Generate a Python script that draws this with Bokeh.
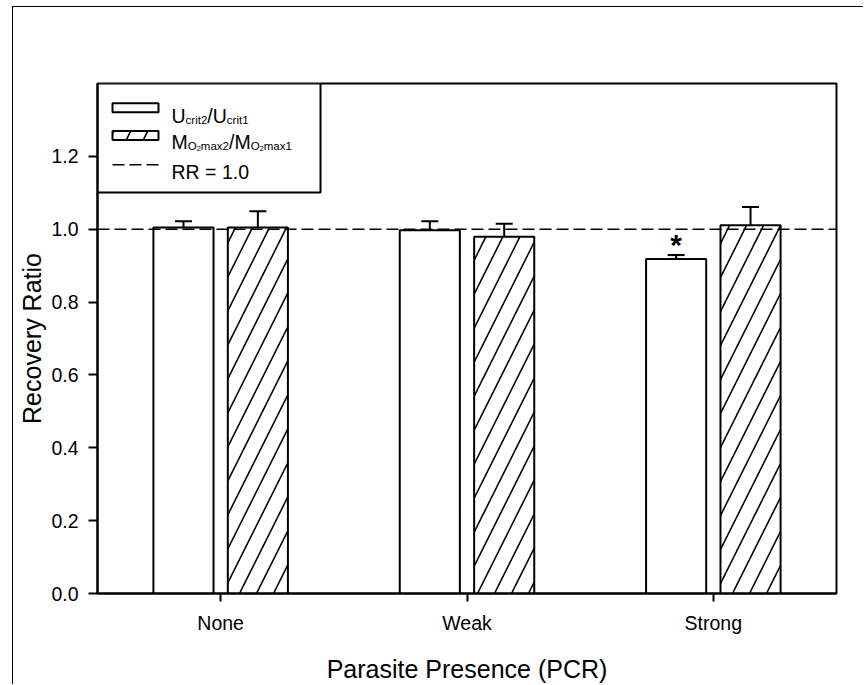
from bokeh.plotting import figure
from bokeh.models import (ColumnDataSource, FactorRange, Range1d, FixedTicker,
                          PrintfTickFormatter, Span, Whisker, TeeHead,
                          BoxAnnotation, Label, GlobalInlineStyleSheet)
from bokeh.transform import dodge
from bokeh.core.properties import value
from bokeh.embed import file_html
from bokeh.resources import INLINE

# ---------------- data ----------------
categories = ["None", "Weak", "Strong"]
ucrit_ratio = [1.005, 0.997, 0.918]
ucrit_err = [0.017, 0.025, 0.011]
mo2_ratio = [1.005, 0.979, 1.011]
mo2_err = [0.044, 0.036, 0.050]
significance = ["", "", "*"]
y_ticks = [0.0, 0.2, 0.4, 0.6, 0.8, 1.0, 1.2]
reference_ratio = 1.0

FONT = "Liberation Sans"
W, H = 864, 685
OX, OY = 13, 7            # page frame offset (figure origin on page)
FL, FR, FT, FB = 97, 836, 83, 598   # plot frame, page coordinates
Y_MAX = 1.4
N = len(categories)


def dx(sx):
    return (sx - FL) / ((FR - FL) / N)


def dy(sy):
    return (FB - sy) / ((FB - FT) / Y_MAX)


src = ColumnDataSource(dict(
    cat=categories,
    ucrit=ucrit_ratio,
    ucrit_up=[v + e for v, e in zip(ucrit_ratio, ucrit_err)],
    mo2=mo2_ratio,
    mo2_up=[v + e for v, e in zip(mo2_ratio, mo2_err)],
    sig=significance,
))

p = figure(width=W - OX, height=H - OY, x_range=FactorRange(*categories),
           y_range=Range1d(0, Y_MAX), output_backend="svg",
           toolbar_location=None, min_border_left=FL - OX,
           min_border_right=W - FR, min_border_top=FT - OY,
           min_border_bottom=H - FB)
p.styles = {"position": "absolute", "left": f"{OX}px", "top": f"{OY}px",
            "box-shadow": "-1px -1px 0 0 black"}
p.stylesheets = [GlobalInlineStyleSheet(
    css="html, body { overflow: hidden !important; margin: 0; }")]
p.x_range.range_padding = 0
p.background_fill_color = "white"
p.border_fill_color = "white"
p.outline_line_color = "black"
p.outline_line_width = 2
p.xgrid.visible = False
p.ygrid.visible = False

OFF = 0.151
BW = 0.244
HATCH = dict(hatch_pattern="/", hatch_color="black", hatch_weight=1.6,
             hatch_scale=34)

# legend frame drawn beneath the glyph layer
p.add_layout(BoxAnnotation(left=dx(FL), right=dx(320), top=dy(FT),
                           bottom=dy(193), fill_color="white", fill_alpha=1,
                           line_color="black", line_alpha=1, line_width=2,
                           level="underlay"))

p.vbar(x=dodge("cat", -OFF, range=p.x_range), top="ucrit", width=BW,
       source=src, fill_color="white", line_color="black", line_width=2)
p.vbar(x=dodge("cat", OFF, range=p.x_range), top="mo2", width=BW,
       source=src, fill_color="white", line_color="black", line_width=2,
       **HATCH)

for off, lo, up in [(-OFF, "ucrit", "ucrit_up"), (OFF, "mo2", "mo2_up")]:
    w = Whisker(base=dodge("cat", off, range=p.x_range), lower=lo, upper=up,
                source=src, dimension="height", line_color="black",
                line_width=2, lower_head=None,
                upper_head=TeeHead(size=17, line_color="black", line_width=2))
    p.add_layout(w)

p.text(x=dodge("cat", -OFF, range=p.x_range), y="ucrit_up", text="sig",
       source=src, text_font=value(FONT), text_font_size="30px",
       text_font_style="bold", text_align="center",
       text_baseline="alphabetic", y_offset=-11, text_color="black")

p.add_layout(Span(location=reference_ratio, dimension="width",
                  line_color="black", line_width=1.5, line_dash="12 5"))

# axes
p.yaxis.ticker = FixedTicker(ticks=y_ticks)
p.yaxis.formatter = PrintfTickFormatter(format="%.1f")
for ax in (p.xaxis[0], p.yaxis[0]):
    ax.axis_line_color = "black"
    ax.axis_line_width = 2
    ax.major_tick_line_color = "black"
    ax.major_tick_line_width = 2
    ax.major_tick_in = 0
    ax.minor_tick_line_color = None
    ax.major_label_text_font = FONT
    ax.major_label_text_font_size = "19.5px"
    ax.major_label_text_color = "black"
    ax.major_label_standoff = 10
    ax.axis_label_text_font = FONT
    ax.axis_label_text_font_size = "25px"
    ax.axis_label_text_font_style = "normal"
    ax.axis_label_text_color = "black"
p.yaxis.major_tick_out = 9
p.xaxis.major_tick_out = 8
p.yaxis.axis_label = "Recovery Ratio"
p.xaxis.axis_label = "Parasite Presence (PCR)"
p.yaxis.axis_label_standoff = 2
p.xaxis.axis_label_standoff = 18
p.xaxis.group_text_font_size = "0px"

# legend samples
p.add_layout(BoxAnnotation(left=dx(112), right=dx(158), top=dy(103),
                           bottom=dy(112), fill_color="white", fill_alpha=1,
                           line_color="black", line_alpha=1, line_width=2))
p.add_layout(BoxAnnotation(left=dx(112), right=dx(158), top=dy(131),
                           bottom=dy(140), fill_color="white", fill_alpha=1,
                           line_color="black", line_alpha=1, line_width=2,
                           **HATCH))
p.line(x=[dx(112), dx(158)], y=[dy(165), dy(165)], line_color="black",
       line_width=1.5, line_dash="12 5")


def leg(sx, sy, text, size):
    p.add_layout(Label(x=dx(sx), y=dy(sy), text=text, text_font=FONT,
                       text_font_size=f"{size}px", text_color="black",
                       text_baseline="alphabetic", text_align="left"))


BIG, SUB, SS = 19.5, 11.5, 7.5
# row 1: U crit2 / U crit1
x = 171
leg(x, 115.7, "U", BIG); x += 0.722 * BIG
leg(x, 119.5, "crit2", SUB); x += 1.889 * SUB
leg(x, 115.7, "/U", BIG); x += 1.0 * BIG
leg(x, 119.5, "crit1", SUB)
# row 2: M O2max2 / M O2max1
x = 171
leg(x, 141.7, "M", BIG); x += 0.833 * BIG
leg(x, 146, "O", SUB); x += 0.778 * SUB
leg(x, 149, "2", SS); x += 0.556 * SS
leg(x, 146, "max2", SUB); x += 2.445 * SUB
leg(x, 141.7, "/M", BIG); x += 1.111 * BIG
leg(x, 146, "O", SUB); x += 0.778 * SUB
leg(x, 149, "2", SS); x += 0.556 * SS
leg(x, 146, "max1", SUB)
# row 3
leg(171, 172.7, "RR = 1.0", BIG)

open("out.html", "w").write(file_html(p, INLINE))
